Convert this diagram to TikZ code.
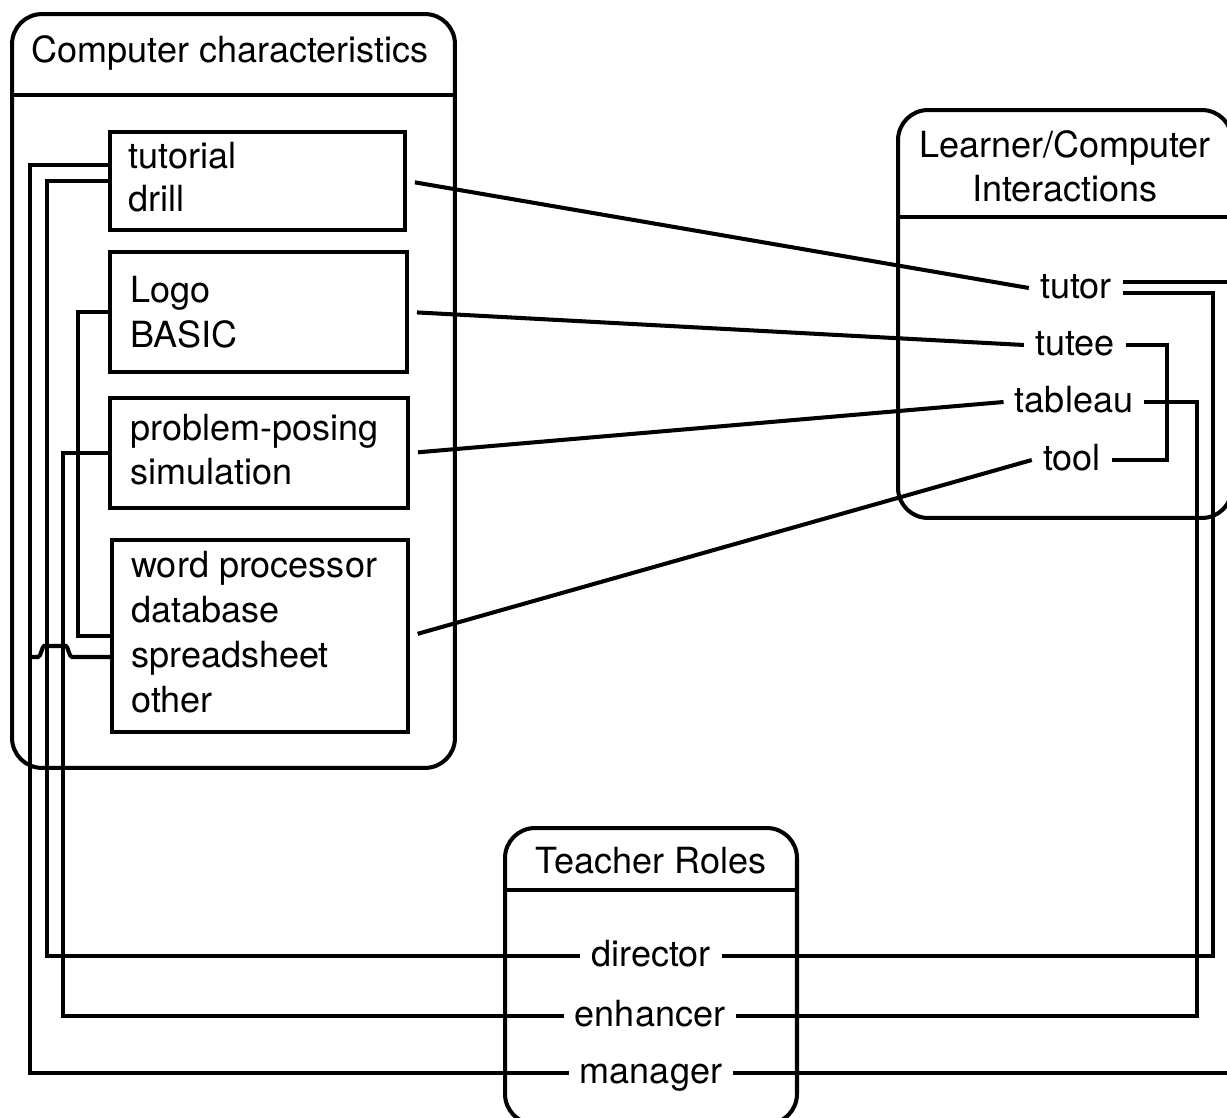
\documentclass[tikz,border=0pt]{standalone}
\usepackage{fontspec}
\setmainfont{TeX Gyre Heros}
\usetikzlibrary{calc,positioning}

\tikzset{
  panel/.style={draw, line width=2.3pt, rounded corners=0.6cm, inner sep=0pt},
  itembox/.style={draw, line width=2.3pt, inner sep=0pt},
  row/.style={inner xsep=0.22cm, inner ysep=0pt, text height=2.6ex, text depth=0.3ex},
  wire/.style={line width=2.3pt},
  link/.style={wire, shorten <=0.16cm},
}

\begin{document}
\begin{tikzpicture}[x=0.02cm, y=-0.02cm, font=\fontsize{20.5}{25}\selectfont]
    \useasboundingbox (0,0) rectangle (1227,1118);

    % three panels with a title strip each
    \node[panel, minimum width=8.86cm, minimum height=15.08cm] (cc) at (233.5,391) {};
    \node (cchead) at (230,53) {Computer characteristics};
    \draw[wire] (cc.west |- 0,95) -- (cc.east |- 0,95);

    \node[panel, minimum width=6.68cm, minimum height=8.16cm] (lci) at (1065,314) {};
    \node[align=center] (lcihead) at (1065,166) {Learner/Computer\\Interactions};
    \draw[wire] (lci.west |- 0,217) -- (lci.east |- 0,217);

    \node[panel, minimum width=5.84cm, minimum height=5.92cm] (tr) at (651,976) {};
    \node (trhead) at (651,861) {Teacher Roles};
    \draw[wire] (tr.west |- 0,890) -- (tr.east |- 0,890);

    % software boxes
    \node[itembox, minimum width=5.9cm, minimum height=1.96cm] (tutbox) at (257.5,181) {};
    \node[itembox, minimum width=5.94cm, minimum height=2.4cm] (langbox) at (258.5,312) {};
    \node[itembox, minimum width=5.96cm, minimum height=2.2cm] (simbox) at (259,453) {};
    \node[itembox, minimum width=5.92cm, minimum height=3.84cm] (toolbox) at (260,636) {};

    \node[row, anchor=west] (tutorial) at (117,158) {tutorial};
    \node[row, anchor=west] (drill) at (117,201) {drill};
    \node[row, anchor=west] (logo) at (119,292) {Logo};
    \node[row, anchor=west] (basic) at (119,337) {BASIC};
    \node[row, anchor=west] (posing) at (119,430) {problem-posing};
    \node[row, anchor=west] (simulation) at (119,474) {simulation};
    \node[row, anchor=west] (wordproc) at (120,567) {word processor};
    \node[row, anchor=west] (database) at (120,612) {database};
    \node[row, anchor=west] (spreadsheet) at (120,657) {spreadsheet};
    \node[row, anchor=west] (other) at (120,702) {other};

    % interaction and role labels
    \node[row] (tutor) at (1076,288) {tutor};
    \node[row] (tutee) at (1075,345) {tutee};
    \node[row] (tableau) at (1074,402) {tableau};
    \node[row] (tool) at (1072,460) {tool};

    \node[row] (director) at (651,956) {director};
    \node[row] (enhancer) at (650,1016) {enhancer};
    \node[row] (manager) at (651,1073) {manager};

    % vertical runs of the wiring
    \coordinate (busA) at (30,0);
    \coordinate (busB) at (47,0);
    \coordinate (busC) at (63,0);
    \coordinate (busD) at (78,0);
    \coordinate (busE) at (1167,0);
    \coordinate (busF) at (1197,0);
    \coordinate (busG) at (1213,0);
    \coordinate (edge) at (1227,0);
    \coordinate (tutport) at ($(tutbox.west)+(0,-16)$);
    \coordinate (tutorhi) at ($(tutor.east)+(0,-6)$);
    \coordinate (tutorlo) at ($(tutor.east)+(0,5)$);

    % boxes to interactions
    \draw[link] (tutbox.east) -- (tutor.west);
    \draw[link] (langbox.east) -- (tutee.west);
    \draw[link] (simbox.east) -- (tableau.west);
    \draw[link] (toolbox.east) -- (tool.west);

    % left side
    \draw[wire] (tutport) -- (busA |- tutport) |- (manager.west);
    \draw[wire] (tutbox.west) -- (busB |- tutbox.west) |- (director.west);
    \draw[wire] (simbox.west) -- (busC |- simbox.west) |- (enhancer.west);
    \draw[wire] (langbox.west) -- (busD |- langbox.west) |- (toolbox.west);
    \draw[wire] (toolbox.west |- spreadsheet) -- ($(busC |- spreadsheet)+(9,0)$)
      .. controls +(-3,0) and +(2,0) .. ++(-6,-11) -- ++(-22,0)
      .. controls +(-2,0) and +(3,0) .. ++(-6,11) -- (busA |- spreadsheet);

    % right side
    \draw[wire] (tutorhi) -- (edge |- tutorhi);
    \draw[wire] (tutorlo) -- (busG |- tutorlo) |- (director.east);
    \draw[wire] (tutee.east) -- (busE |- tutee.east) |- (tool.east);
    \draw[wire] (tableau.east) -- (busF |- tableau.east) |- (enhancer.east);
    \draw[wire] (manager.east) -- (edge |- manager.east);
\end{tikzpicture}
\end{document}
